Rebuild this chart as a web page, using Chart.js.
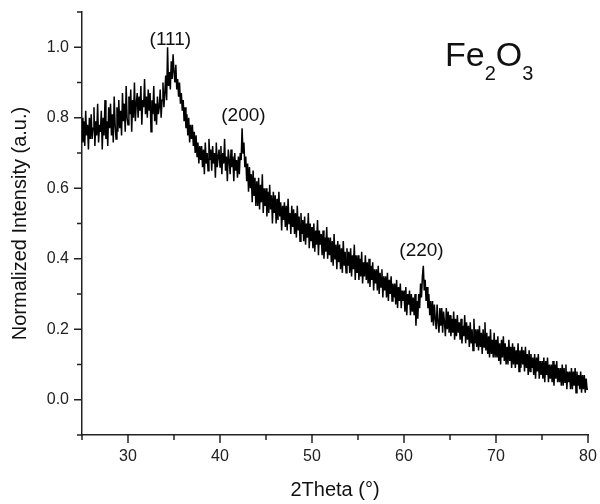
<!DOCTYPE html>
<html>
<head>
<meta charset="utf-8">
<script src="https://cdn.jsdelivr.net/npm/chart.js@4.4.1/dist/chart.umd.min.js"></script>
<style>
  body { margin: 0; background: #fff; }
  #wrap { width: 600px; height: 504px; }
</style>
</head>
<body>
<div id="wrap"><canvas id="chart" width="600" height="504"></canvas></div>
<script>
// XRD scan of Fe2O3, 2theta from 25 to 80 in 0.1 deg steps
const twoThetaStart = 25;
const twoThetaStep = 0.1;

// normalized intensity, one row per degree (x.0 ... x.9)
const intensity = [
  .80, .73, .79, .72, .82, .75, .78, .71, .80, .74, // 25
  .81, .74, .77, .83, .72, .79, .75, .84, .73, .78, // 26
  .76, .82, .71, .80, .75, .85, .74, .79, .72, .83, // 27
  .77, .84, .75, .81, .73, .86, .78, .74, .83, .76, // 28
  .85, .77, .82, .75, .87, .79, .84, .76, .89, .80, // 29
  .78, .86, .81, .88, .76, .85, .80, .90, .79, .84, // 30
  .87, .80, .86, .82, .89, .78, .85, .83, .91, .81, // 31
  .86, .80, .88, .82, .87, .76, .85, .81, .89, .79, // 32
  .84, .78, .86, .81, .83, .88, .80, .85, .90, .83, // 33
  .87, .92, .85, 1.00, .89, .93, .88, .96, .91, .98, // 34
  .93, .90, .95, .88, .91, .86, .90, .84, .87, .82, // 35
  .85, .79, .83, .77, .81, .75, .80, .73, .78, .74, // 36
  .78, .72, .76, .70, .75, .69, .73, .67, .72, .68, // 37
  .72, .66, .71, .64, .73, .67, .70, .65, .74, .68, // 38
  .71, .65, .72, .67, .70, .63, .73, .66, .69, .71, // 39
  .66, .72, .64, .70, .67, .74, .65, .69, .62, .71, // 40
  .68, .64, .71, .66, .69, .62, .70, .65, .68, .63, // 41
  .69, .64, .70, .68, .77, .70, .73, .66, .69, .62, // 42
  .67, .59, .66, .60, .64, .56, .65, .58, .63, .55, // 43
  .62, .55, .63, .54, .61, .56, .64, .53, .60, .55, // 44
  .60, .52, .59, .53, .61, .54, .58, .50, .59, .53, // 45
  .58, .50, .57, .51, .59, .52, .56, .48, .55, .51, // 46
  .56, .49, .55, .48, .57, .50, .53, .47, .55, .49, // 47
  .54, .47, .53, .46, .55, .48, .52, .45, .53, .47, // 48
  .51, .45, .52, .44, .50, .46, .53, .43, .50, .45, // 49
  .49, .43, .50, .42, .48, .44, .51, .41, .48, .44, // 50
  .47, .41, .48, .40, .46, .42, .49, .40, .46, .41, // 51
  .46, .39, .45, .38, .47, .40, .44, .37, .45, .39, // 52
  .44, .37, .43, .36, .45, .38, .42, .36, .43, .38, // 53
  .42, .36, .43, .35, .41, .37, .44, .34, .41, .36, // 54
  .41, .34, .40, .35, .42, .33, .39, .35, .41, .34, // 55
  .39, .33, .40, .32, .38, .34, .39, .31, .37, .33, // 56
  .37, .31, .38, .30, .36, .32, .37, .29, .35, .31, // 57
  .35, .29, .36, .28, .34, .30, .35, .28, .33, .29, // 58
  .33, .27, .34, .26, .32, .28, .33, .26, .31, .28, // 59
  .31, .25, .32, .24, .30, .27, .31, .24, .30, .25, // 60
  .29, .24, .30, .21, .28, .23, .30, .26, .33, .29, // 61
  .35, .38, .31, .34, .28, .32, .26, .30, .24, .28, // 62
  .22, .28, .21, .27, .23, .20, .27, .22, .19, .26, // 63
  .21, .26, .19, .25, .22, .18, .26, .20, .25, .19, // 64
  .24, .18, .23, .19, .25, .17, .23, .18, .24, .19, // 65
  .22, .17, .23, .16, .21, .18, .24, .16, .22, .17, // 66
  .21, .15, .22, .16, .20, .14, .23, .16, .20, .15, // 67
  .20, .14, .21, .15, .19, .13, .20, .15, .22, .14, // 68
  .19, .13, .18, .12, .20, .13, .17, .12, .19, .12, // 69
  .17, .12, .18, .11, .16, .10, .17, .12, .18, .11, // 70
  .16, .10, .15, .10, .17, .11, .15, .09, .16, .10, // 71
  .15, .09, .14, .10, .16, .08, .14, .09, .15, .10, // 72
  .14, .08, .15, .09, .13, .07, .14, .08, .13, .09, // 73
  .12, .07, .13, .06, .12, .08, .13, .06, .11, .07, // 74
  .11, .06, .12, .05, .11, .07, .12, .05, .10, .06, // 75
  .10, .05, .11, .04, .10, .06, .11, .05, .09, .05, // 76
  .09, .04, .10, .04, .09, .05, .10, .03, .08, .05, // 77
  .08, .03, .09, .03, .08, .04, .09, .02, .08, .04, // 78
  .07, .03, .08, .02, .07, .03, .07, .02, .06, .03, // 79
  .03                                               // 80
];

// peak labels (hkl) and where they sit, in data units
const peakLabels = ['(111)', '(200)', '(220)'];
const peakLabelX = [34.6, 42.55, 61.9];
const peakLabelY = [1.02, 0.805, 0.423];

const FONT = '"Liberation Sans", Arial, sans-serif';

const points = intensity.map((v, i) => ({
  x: +(twoThetaStart + i * twoThetaStep).toFixed(1),
  y: v
}));

// draws tick marks (major/minor), peak labels and the formula
const extras = {
  id: 'extras',
  afterDraw(chart) {
    const ctx = chart.ctx;
    const xs = chart.scales.x;
    const ys = chart.scales.y;
    ctx.save();
    ctx.strokeStyle = '#222';
    ctx.lineWidth = 1.5;
    ctx.beginPath();
    xs.ticks.forEach(t => {
      const px = xs.getPixelForValue(t.value);
      const len = Math.round(t.value) % 10 === 0 ? 8 : 5;
      ctx.moveTo(px, xs.top);
      ctx.lineTo(px, xs.top + len);
    });
    ys.ticks.forEach(t => {
      const py = ys.getPixelForValue(t.value);
      const len = Math.round(t.value * 10) % 2 === 0 ? 8 : 5;
      ctx.moveTo(ys.right, py);
      ctx.lineTo(ys.right - len, py);
    });
    ctx.stroke();

    ctx.fillStyle = '#111';
    ctx.font = '19px ' + FONT;
    ctx.textAlign = 'center';
    ctx.textBaseline = 'middle';
    peakLabels.forEach((lbl, i) => {
      ctx.fillText(lbl, xs.getPixelForValue(peakLabelX[i]), ys.getPixelForValue(peakLabelY[i]));
    });

    // Fe2O3 with subscripts
    let x = xs.getPixelForValue(64.46);
    const y = ys.getPixelForValue(0.948);
    ctx.textAlign = 'left';
    ctx.textBaseline = 'alphabetic';
    const parts = [['Fe', false], ['2', true], ['O', false], ['3', true]];
    parts.forEach(([s, sub]) => {
      ctx.font = (sub ? '20px ' : '34px ') + FONT;
      ctx.fillText(s, x, sub ? y + 14 : y);
      x += ctx.measureText(s).width;
    });
    ctx.restore();
  }
};

const ctx = document.getElementById('chart').getContext('2d');
new Chart(ctx, {
  type: 'line',
  data: {
    datasets: [{
      data: points,
      borderColor: '#000',
      borderWidth: 1.5,
      pointRadius: 0,
      tension: 0,
      fill: false
    }]
  },
  options: {
    responsive: false,
    animation: false,
    parsing: false,
    layout: { padding: { top: 12, right: 12, left: 0, bottom: 0 } },
    plugins: { legend: { display: false }, tooltip: { enabled: false } },
    scales: {
      x: {
        type: 'linear',
        min: 25,
        max: 80,
        afterFit: s => { s.height = 69; },
        // tick marks are drawn by the plugin; tickLength only offsets labels
        grid: { display: false, drawTicks: true, tickLength: 12 },
        border: { color: '#222', width: 1.5 },
        ticks: {
          stepSize: 5,
          autoSkip: false,
          maxRotation: 0,
          padding: 0,
          color: '#222',
          font: { family: FONT, size: 16 },
          callback: v => (Math.round(v) % 10 === 0 ? String(Math.round(v)) : '')
        },
        title: {
          display: true,
          text: '2Theta (°)',
          color: '#111',
          font: { family: FONT, size: 20 },
          padding: { top: 0, bottom: 2 }
        }
      },
      y: {
        min: -0.1,
        max: 1.1,
        afterFit: s => { s.width = 82; },
        grid: { display: false, drawTicks: true, tickLength: 13 },
        border: { color: '#222', width: 1.5 },
        ticks: {
          stepSize: 0.1,
          autoSkip: false,
          padding: 0,
          color: '#222',
          font: { family: FONT, size: 16 },
          callback: v => {
            const k = Math.round(v * 10);
            return (k >= 0 && k <= 10 && k % 2 === 0) ? (k / 10).toFixed(1) : '';
          }
        },
        title: {
          display: true,
          text: 'Normalized Intensity (a.u.)',
          color: '#111',
          font: { family: FONT, size: 20 },
          padding: { top: 8, bottom: 0 }
        }
      }
    }
  },
  plugins: [extras]
});
</script>
</body>
</html>
